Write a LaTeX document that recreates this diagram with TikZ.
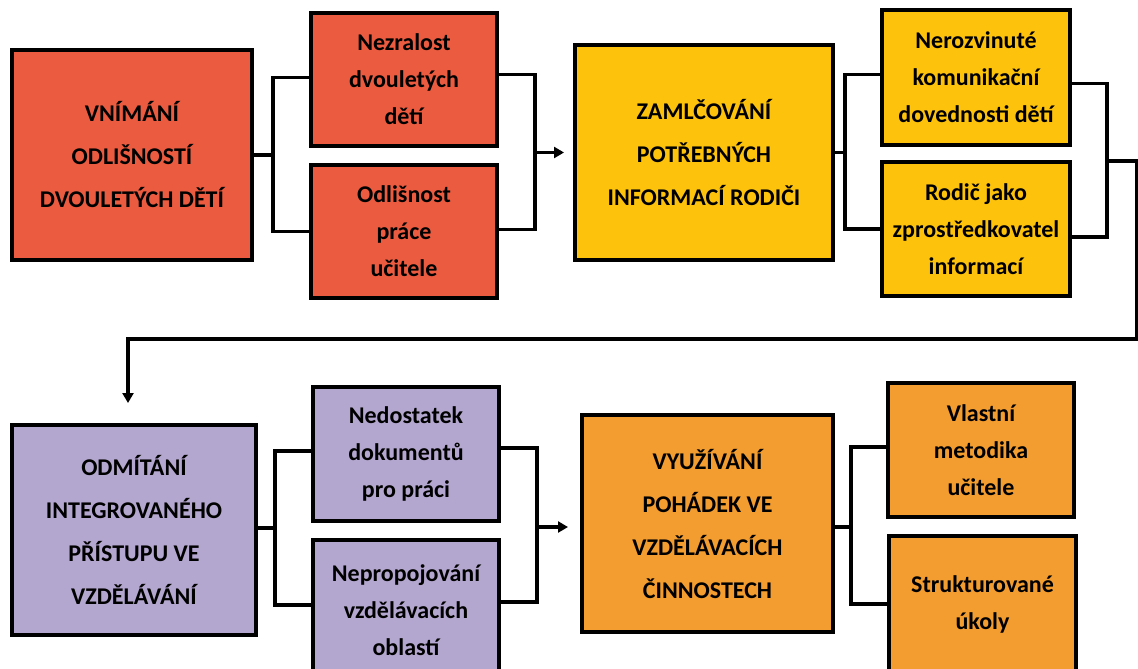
\documentclass[tikz,border=0pt]{standalone}
\usepackage{fontspec}
\setmainfont{Carlito}
\usetikzlibrary{arrows.meta}
\definecolor{cred}{HTML}{EB5B40}
\definecolor{cyel}{HTML}{FDC20C}
\definecolor{cpur}{HTML}{B4A7CF}
\definecolor{corg}{HTML}{F39C2F}
\tikzset{
  box/.style={draw=black, line width=3.2pt, align=center, inner sep=0pt, outer sep=0pt},
  bigbox/.style={box, font=\fontsize{24}{43}\selectfont\bfseries},
  smallbox/.style={box, font=\fontsize{24}{37}\selectfont\bfseries},
  conn/.style={draw=black, line width=3.2pt},
  arr/.style={conn, -{Triangle[width=11pt,length=10pt]}},
}
\begin{document}
\begin{tikzpicture}[x=1pt,y=-1pt]
\clip (0,0) rectangle (1138,669);
\fill[white] (0,0) rectangle (1138,669);
% row 1
\node[bigbox, fill=cred, minimum width=240pt, minimum height=210pt] (a) at (132,155) {VNÍMÁNÍ\\ODLIŠNOSTÍ\\DVOULETÝCH DĚTÍ};
\node[smallbox, fill=cred, minimum width=186pt, minimum height=133pt] (b) at (404,79.5) {Nezralost\\dvouletých\\dětí};
\node[smallbox, fill=cred, minimum width=186pt, minimum height=133pt] (c) at (404,231.5) {Odlišnost\\práce\\učitele};
\node[bigbox, fill=cyel, minimum width=258pt, minimum height=215pt] (d) at (704,152.5) {ZAMLČOVÁNÍ\\POTŘEBNÝCH\\INFORMACÍ RODIČI};
\node[smallbox, fill=cyel, minimum width=188pt, minimum height=135pt] (e) at (976,77.5) {Nerozvinuté\\komunikační\\dovednosti dětí};
\node[smallbox, fill=cyel, minimum width=188pt, minimum height=134pt] (f) at (976,229) {Rodič jako\\zprostředkovatel\\informací};
% row 2
\node[bigbox, fill=cpur, minimum width=244pt, minimum height=210pt] (g) at (134,530) {ODMÍTÁNÍ\\INTEGROVANÉHO\\PŘÍSTUPU VE\\VZDĚLÁVÁNÍ};
\node[smallbox, fill=cpur, minimum width=186pt, minimum height=134pt] (h) at (406,454) {Nedostatek\\dokumentů\\pro práci};
\node[smallbox, fill=cpur, minimum width=186pt, minimum height=140pt] (i) at (406,610) {Nepropojování\\vzdělávacích\\oblastí};
\node[bigbox, fill=corg, minimum width=251pt, minimum height=217pt] (j) at (707.5,523.5) {VYUŽÍVÁNÍ\\POHÁDEK VE\\VZDĚLÁVACÍCH\\ČINNOSTECH};
\node[smallbox, fill=corg, minimum width=186pt, minimum height=134pt] (k) at (981,450) {Vlastní\\metodika\\učitele};
\node[smallbox, fill=corg, minimum width=187pt, minimum height=136pt] (l) at (982.5,604) {Strukturované\\úkoly};
% junctions
\coordinate (j1) at (273,155);
\coordinate (j2) at (535,152.5);
\coordinate (j3) at (845,152.5);
\coordinate (j4) at (1107,161);
\coordinate (r1) at (1136.5,161);
\coordinate (r2) at (1136.5,339);
\coordinate (r3) at (128,403);
\coordinate (j5) at (275,528);
\coordinate (j6) at (537,527);
\coordinate (j7) at (851,527);
% connectors row 1
\draw[conn] (a.east) -- (j1);
\draw[conn] ([yshift=2pt]b.west) -| (j1) |- (c.west);
\draw[conn] ([yshift=5pt]b.east) -| (j2) |- ([yshift=2pt]c.east);
\draw[arr, shorten >=11pt] (j2) -- (d.west);
\draw[conn] (d.east) -- (j3);
\draw[conn] ([yshift=3pt]e.west) -| (j3) |- (f.west);
\draw[conn] ([yshift=-6pt]e.east) -| (j4) |- ([yshift=-8pt]f.east);
\draw[arr] (j4) -- (r1) -- (r2) -| (r3);
% connectors row 2
\draw[conn] (g.east |- j5) -- (j5);
\draw[conn] ([yshift=3pt]h.west) -| (j5) |- ([yshift=5pt]i.west);
\draw[conn] ([yshift=6pt]h.east) -| (j6) |- ([yshift=8pt]i.east);
\draw[arr, shorten >=14pt] (j6) -- (j.west |- j6);
\draw[conn] (j.east |- j7) -- (j7);
\draw[conn] ([yshift=3pt]k.west) -| (j7) |- (l.west);
\end{tikzpicture}
\end{document}
